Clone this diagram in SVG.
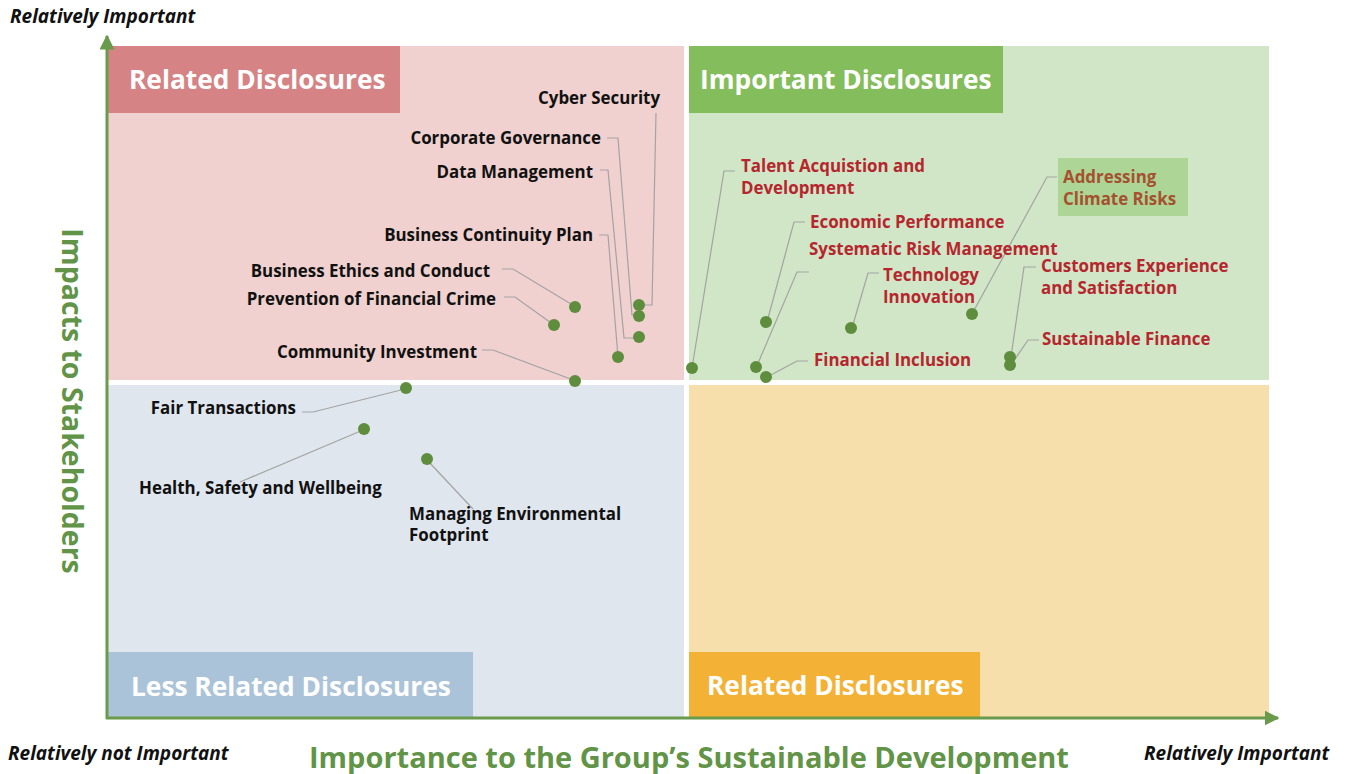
<svg xmlns="http://www.w3.org/2000/svg" width="1351" height="774" viewBox="0 0 1351 774">
<defs>
<style>
.q{stroke:none}
.hd{font-family:"Open Sans","Noto Sans",sans-serif;font-weight:bold;font-size:26.3px;fill:#ffffff}
.lb{font-family:"Open Sans","Noto Sans",sans-serif;font-weight:bold;font-size:16.9px;fill:#111111}
.rd{font-family:"Open Sans","Noto Sans",sans-serif;font-weight:bold;font-size:16.9px;fill:#b5262f}
.br{font-family:"Open Sans","Noto Sans",sans-serif;font-weight:bold;font-size:16.9px;fill:#a5512f}
.cn{font-family:"Open Sans","Noto Sans",sans-serif;font-weight:bold;font-style:italic;font-size:19px;fill:#111111}
.ax{font-family:"Open Sans","Noto Sans",sans-serif;font-weight:bold;font-size:29px;fill:#629447}
.ln{fill:none;stroke:#a3a3a3;stroke-width:1.2}
.dt{fill:#5f8d3e}
.axl{stroke:#6a9a4b;stroke-width:3;fill:none}
</style>
<marker id="arr" viewBox="0 0 10 10" refX="9" refY="5" markerWidth="5" markerHeight="5" orient="auto" markerUnits="strokeWidth">
<path d="M0,0 L10,5 L0,10 z" fill="#6a9a4b"/>
</marker>
</defs>
<rect width="1351" height="774" fill="#ffffff"/>
<g id="quadrants">
<rect class="q" x="108" y="46" width="576" height="334" fill="#f0d1cf"/>
<rect class="q" x="689" y="46" width="580" height="334" fill="#d0e6c6"/>
<rect class="q" x="108" y="385" width="576" height="333" fill="#e0e6ee"/>
<rect class="q" x="689" y="385" width="580" height="333" fill="#f6dfaa"/>
</g>
<g id="quadrant-headers">
<rect x="108" y="46" width="292" height="67" fill="#d58384"/>
<text class="hd" x="129" y="89">Related Disclosures</text>
<rect x="689" y="46" width="314" height="67" fill="#84bd5b"/>
<text class="hd" x="700" y="89">Important Disclosures</text>
<rect x="108" y="652" width="365" height="66" fill="#abc3d8"/>
<text class="hd" x="131" y="696">Less Related Disclosures</text>
<rect x="689" y="652" width="291" height="66" fill="#f3b236"/>
<text class="hd" x="707" y="695">Related Disclosures</text>
<rect x="1058" y="158" width="130" height="58" fill="#add596"/>
</g>
<g id="axes">
<line class="axl" x1="107" y1="719" x2="107" y2="36" marker-end="url(#arr)"/>
<line class="axl" x1="106" y1="718" x2="1278" y2="718" marker-end="url(#arr)"/>
<text class="cn" x="10" y="23">Relatively Important</text>
<text class="cn" x="8" y="760">Relatively not Important</text>
<text class="cn" x="1144" y="760">Relatively Important</text>
<text class="ax" x="689" y="768" text-anchor="middle">Importance to the Group’s Sustainable Development</text>
<text class="ax" style="font-size:28.5px" transform="translate(62,401) rotate(90)" text-anchor="middle">Impacts to Stakeholders</text>
</g>
<g id="connectors">
<polyline class="ln" points="656,113 652,305 645,305"/>
<polyline class="ln" points="607,138 618,138 632,315 639,316"/>
<polyline class="ln" points="600,170 608,170 624,338 639,338"/>
<polyline class="ln" points="599,235 608,235 618,357"/>
<polyline class="ln" points="502,269 513,269 576,307"/>
<polyline class="ln" points="504,297 515,297 554,325"/>
<polyline class="ln" points="482,350 493,350 576,381"/>
<polyline class="ln" points="302,412 313,412 405,389"/>
<polyline class="ln" points="240,482 363,430"/>
<polyline class="ln" points="427,460 473,509"/>
<polyline class="ln" points="735,171 724,171 692,368"/>
<polyline class="ln" points="805,222 794,222 767,322"/>
<polyline class="ln" points="809,272 797,272 756,368"/>
<polyline class="ln" points="808,361 797,361 767,377"/>
<polyline class="ln" points="879,273 868,273 852,328"/>
<polyline class="ln" points="1057,177 1047,177 972,314"/>
<polyline class="ln" points="1036,267 1024,267 1011,357"/>
<polyline class="ln" points="1039,340 1028,340 1013,362"/>
</g>
<g id="n-cyber"><circle class="dt" cx="639" cy="305" r="6"/><text class="lb" x="660" y="104" text-anchor="end">Cyber Security</text></g>
<g id="n-corpgov"><circle class="dt" cx="639" cy="316" r="6"/><text class="lb" x="601" y="144" text-anchor="end">Corporate Governance</text></g>
<g id="n-data"><circle class="dt" cx="639" cy="337" r="6"/><text class="lb" x="593" y="178" text-anchor="end">Data Management</text></g>
<g id="n-bcp"><circle class="dt" cx="618" cy="357" r="6"/><text class="lb" x="593" y="241" text-anchor="end">Business Continuity Plan</text></g>
<g id="n-ethics"><circle class="dt" cx="575" cy="307" r="6"/><text class="lb" x="490" y="277" text-anchor="end">Business Ethics and Conduct</text></g>
<g id="n-crime"><circle class="dt" cx="554" cy="325" r="6"/><text class="lb" x="496" y="305" text-anchor="end">Prevention of Financial Crime</text></g>
<g id="n-community"><circle class="dt" cx="575" cy="381" r="6"/><text class="lb" x="477" y="358" text-anchor="end">Community Investment</text></g>
<g id="n-fair"><circle class="dt" cx="406" cy="388" r="6"/><text class="lb" x="296" y="414" text-anchor="end">Fair Transactions</text></g>
<g id="n-health"><circle class="dt" cx="364" cy="429" r="6"/><text class="lb" x="139" y="494">Health, Safety and Wellbeing</text></g>
<g id="n-env"><circle class="dt" cx="427" cy="459" r="6"/><text class="lb" x="409" y="520">Managing Environmental</text><text class="lb" x="409" y="541">Footprint</text></g>
<g id="n-talent"><circle class="dt" cx="692" cy="368" r="6"/><text class="rd" x="741" y="172">Talent Acquistion and</text><text class="rd" x="741" y="194">Development</text></g>
<g id="n-econ"><circle class="dt" cx="766" cy="322" r="6"/><text class="rd" x="810" y="228">Economic Performance</text></g>
<g id="n-risk"><circle class="dt" cx="756" cy="367" r="6"/><text class="rd" x="809" y="255">Systematic Risk Management</text></g>
<g id="n-inclusion"><circle class="dt" cx="766" cy="377" r="6"/><text class="rd" x="814" y="366">Financial Inclusion</text></g>
<g id="n-tech"><circle class="dt" cx="851" cy="328" r="6"/><text class="rd" x="883" y="281">Technology</text><text class="rd" x="883" y="303">Innovation</text></g>
<g id="n-climate"><circle class="dt" cx="972" cy="314" r="6"/><text class="br" x="1063" y="183">Addressing</text><text class="br" x="1063" y="205">Climate Risks</text></g>
<g id="n-customers"><circle class="dt" cx="1010" cy="357" r="6"/><text class="rd" x="1041" y="272">Customers Experience</text><text class="rd" x="1041" y="294">and Satisfaction</text></g>
<g id="n-sustfin"><circle class="dt" cx="1010" cy="365" r="6"/><text class="rd" x="1042" y="345">Sustainable Finance</text></g>
</svg>
